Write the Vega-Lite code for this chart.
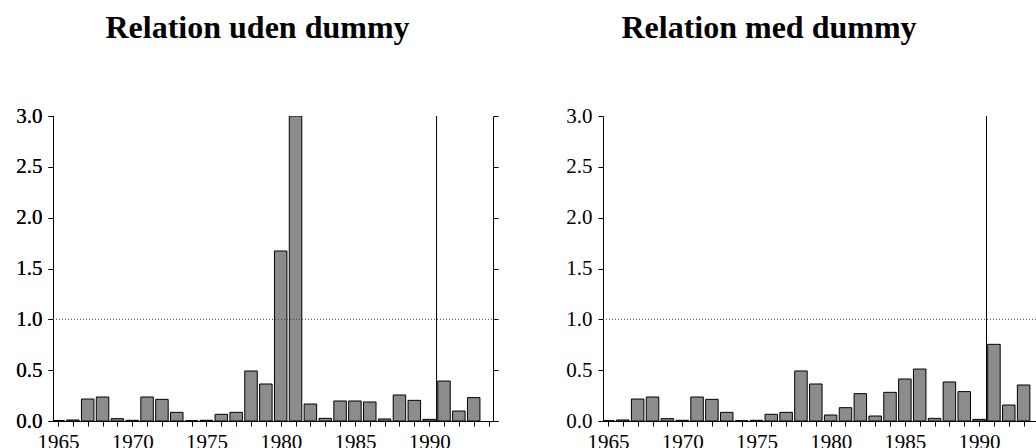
{
  "$schema": "https://vega.github.io/schema/vega-lite/v6.json",
  "padding": {"left": 15, "top": 12, "right": 0, "bottom": -4},
  "background": "white",
  "spacing": 66,
  "config": {
    "view": {"stroke": null},
    "font": "Liberation Serif",
    "style": {"guide-label": {"font": "Liberation Serif", "fontSize": 21, "fill": "#000"}},
    "axis": {"labelFont": "Liberation Serif", "labelFontSize": 21, "labelColor": "#000", "domainColor": "#000", "tickColor": "#000", "grid": false, "tickSize": 5, "labelPadding": 6, "labelOverlap": false, "labelFlush": false},
    "title": {"font": "Liberation Serif", "fontSize": 32, "fontWeight": "bold", "color": "#000", "anchor": "middle", "frame": "group"}
  },
  "datasets": {
    "uden": [
      {"year": 1965, "value": 0.005}, {"year": 1966, "value": 0.01}, {"year": 1967, "value": 0.216}, {"year": 1968, "value": 0.236},
      {"year": 1969, "value": 0.023}, {"year": 1970, "value": 0.007}, {"year": 1971, "value": 0.236}, {"year": 1972, "value": 0.213},
      {"year": 1973, "value": 0.085}, {"year": 1974, "value": 0.003}, {"year": 1975, "value": 0.007}, {"year": 1976, "value": 0.066},
      {"year": 1977, "value": 0.085}, {"year": 1978, "value": 0.492}, {"year": 1979, "value": 0.364}, {"year": 1980, "value": 1.672},
      {"year": 1981, "value": 3.0}, {"year": 1982, "value": 0.167}, {"year": 1983, "value": 0.026}, {"year": 1984, "value": 0.197},
      {"year": 1985, "value": 0.197}, {"year": 1986, "value": 0.187}, {"year": 1987, "value": 0.02}, {"year": 1988, "value": 0.256},
      {"year": 1989, "value": 0.203}, {"year": 1990, "value": 0.016}, {"year": 1991, "value": 0.393}, {"year": 1992, "value": 0.098},
      {"year": 1993, "value": 0.23}
    ],
    "med": [
      {"year": 1965, "value": 0.003}, {"year": 1966, "value": 0.01}, {"year": 1967, "value": 0.216}, {"year": 1968, "value": 0.236},
      {"year": 1969, "value": 0.023}, {"year": 1970, "value": 0.007}, {"year": 1971, "value": 0.236}, {"year": 1972, "value": 0.213},
      {"year": 1973, "value": 0.085}, {"year": 1974, "value": 0.003}, {"year": 1975, "value": 0.007}, {"year": 1976, "value": 0.066},
      {"year": 1977, "value": 0.085}, {"year": 1978, "value": 0.492}, {"year": 1979, "value": 0.364}, {"year": 1980, "value": 0.059},
      {"year": 1981, "value": 0.131}, {"year": 1982, "value": 0.269}, {"year": 1983, "value": 0.049}, {"year": 1984, "value": 0.282},
      {"year": 1985, "value": 0.413}, {"year": 1986, "value": 0.511}, {"year": 1987, "value": 0.026}, {"year": 1988, "value": 0.384},
      {"year": 1989, "value": 0.289}, {"year": 1990, "value": 0.016}, {"year": 1991, "value": 0.754}, {"year": 1992, "value": 0.157},
      {"year": 1993, "value": 0.354}
    ],
    "one": [{"ref": 1}]
  },
  "hconcat": [
    {
      "title": {"text": "Relation uden dummy", "dx": -18, "offset": 60},
      "width": 445,
      "height": 305,
      "layer": [
        {
          "data": {"name": "uden"},
          "mark": {"type": "bar", "width": 12.5, "fill": "#8c8c8c", "stroke": "#000", "strokeWidth": 1, "clip": true},
          "encoding": {
            "x": {"field": "year", "type": "quantitative", "title": null,
              "scale": {"domain": [1965, 1994.3], "nice": false, "zero": false},
              "axis": {"orient": "bottom", "values": [1965,1966,1967,1968,1969,1970,1971,1972,1973,1974,1975,1976,1977,1978,1979,1980,1981,1982,1983,1984,1985,1986,1987,1988,1989,1990,1991,1992,1993,1994], "labels": false}},
            "y": {"field": "value", "type": "quantitative", "title": null,
              "scale": {"domain": [0, 3], "nice": false},
              "axis": {"orient": "left", "values": [0, 0.5, 1, 1.5, 2, 2.5, 3], "format": ".1f", "domainColor": "#777", "labelFont": "Liberation Serif", "labelFontSize": 21}}
          }
        },
        {
          "data": {"name": "one"},
          "mark": {"type": "rule", "color": "#444", "strokeDash": [1, 2], "strokeWidth": 1},
          "encoding": {"y": {"datum": 1, "type": "quantitative", "axis": {"orient": "right", "labels": false, "offset": -5, "values": [0, 0.5, 1, 1.5, 2, 2.5, 3], "title": null}}}
        },
        {
          "data": {"name": "one"},
          "mark": {"type": "rule", "color": "#000", "strokeWidth": 1},
          "encoding": {
            "x": {"datum": 1990.5, "type": "quantitative", "axis": {"orient": "bottom", "values": [1965, 1970, 1975, 1980, 1985, 1990], "format": "d", "domain": false, "ticks": false, "labelDx": 6, "labelPadding": 10, "labelFont": "Liberation Serif", "labelFontSize": 21, "title": null}},
            "y": {"datum": 0, "type": "quantitative"}, "y2": {"datum": 3}}
        }
      ],
      "resolve": {"axis": {"y": "independent", "x": "independent"}}
    },
    {
      "title": {"text": "Relation med dummy", "dx": -52, "offset": 60},
      "width": 436,
      "height": 305,
      "layer": [
        {
          "data": {"name": "med"},
          "mark": {"type": "bar", "width": 12.5, "fill": "#8c8c8c", "stroke": "#000", "strokeWidth": 1, "clip": true},
          "encoding": {
            "x": {"field": "year", "type": "quantitative", "title": null,
              "scale": {"domain": [1965, 1993.7], "nice": false, "zero": false},
              "axis": {"orient": "bottom", "values": [1965,1966,1967,1968,1969,1970,1971,1972,1973,1974,1975,1976,1977,1978,1979,1980,1981,1982,1983,1984,1985,1986,1987,1988,1989,1990,1991,1992,1993], "labels": false}},
            "y": {"field": "value", "type": "quantitative", "title": null,
              "scale": {"domain": [0, 3], "nice": false},
              "axis": {"orient": "left", "values": [0, 0.5, 1, 1.5, 2, 2.5, 3], "format": ".1f", "labelFont": "Liberation Serif", "labelFontSize": 21}}
          }
        },
        {
          "data": {"name": "one"},
          "mark": {"type": "rule", "color": "#444", "strokeDash": [1, 2], "strokeWidth": 1},
          "encoding": {"y": {"datum": 1, "type": "quantitative"}}
        },
        {
          "data": {"name": "one"},
          "mark": {"type": "rule", "color": "#000", "strokeWidth": 1},
          "encoding": {
            "x": {"datum": 1990.5, "type": "quantitative", "axis": {"orient": "bottom", "values": [1965, 1970, 1975, 1980, 1985, 1990], "format": "d", "domain": false, "ticks": false, "labelDx": 6, "labelPadding": 10, "labelFont": "Liberation Serif", "labelFontSize": 21, "title": null}},
            "y": {"datum": 0, "type": "quantitative"}, "y2": {"datum": 3}}
        }
      ],
      "resolve": {"axis": {"x": "independent"}}
    }
  ]
}
